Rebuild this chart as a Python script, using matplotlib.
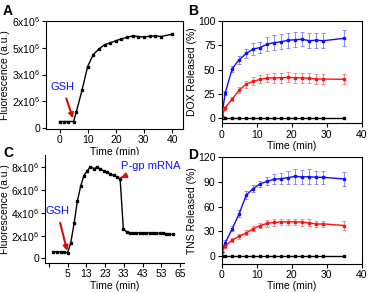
import matplotlib.pyplot as plt

plt.rcParams['font.family'] = ['Liberation Sans', 'DejaVu Sans']
plt.rcParams['font.size'] = 7.5
plt.rcParams['mathtext.fontset'] = 'custom'
plt.rcParams['mathtext.rm'] = 'Liberation Sans'

W, H = 369, 293

# Panel A: fluorescence vs time
a_time = [0, 1.5, 3, 5, 6, 8, 10, 12, 14, 16, 18, 20, 22, 24, 26, 28, 30, 32, 34, 36, 40]
a_fluo = [0.37, 0.37, 0.37, 0.37, 0.92, 2.12, 3.45, 4.12, 4.43, 4.67, 4.78, 4.89, 5.0,
          5.08, 5.17, 5.13, 5.1, 5.15, 5.17, 5.13, 5.26]
a_yticks = [0, 1.5, 3, 4.5, 6]
a_ylabels = ['0', '2x10$^6$', '3x10$^6$', '5x10$^6$', '6x10$^6$']

# Panel B: DOX released
b_time = [0, 1, 3, 5, 7, 9, 11, 13, 15, 17, 19, 21, 23, 25, 27, 29, 35]
b_blue = [2, 26, 51, 60, 66.5, 71, 72.5, 76, 77.5, 78.5, 80, 80.5, 81, 79.5, 80, 79.5, 82]
b_blue_err = [0, 2, 3, 4, 5, 6, 6, 7, 7.5, 7.5, 7.5, 7.5, 7, 7.5, 7.5, 7.5, 8]
b_red = [1, 11, 20, 29, 35, 38, 40, 41.3, 41.6, 41.6, 42, 41.6, 41.6, 41, 40.3, 40.3, 40]
b_red_err = [0, 2, 2, 3, 3.5, 4, 4, 4.5, 5, 5, 5, 5, 5, 5, 5, 5, 5]
b_black = [0] * 17

# Panel C: fluorescence, GSH then P-gp mRNA
c_time = [-2.5, -0.8, 1.3, 3.2, 5.0, 6.7, 8.5, 10.2, 12.0, 13.7, 15.5, 17.2, 19.0, 20.7,
          22.5, 24.2, 26.0, 27.7, 29.5, 31.2, 33.0, 34.7, 36.5, 38.2, 40.0, 41.7, 43.5,
          45.2, 47.0, 48.7, 50.5, 52.2, 54.0, 55.7, 57.5, 59.2, 61.0]
c_fluo = [0.58, 0.58, 0.58, 0.58, 0.49, 1.36, 3.07, 5.01, 6.38, 7.28, 7.71, 8.06, 7.91, 8.0,
          7.86, 7.71, 7.57, 7.45, 7.30, 7.19, 6.99, 2.61, 2.32, 2.26, 2.25, 2.25, 2.24,
          2.24, 2.23, 2.23, 2.22, 2.22, 2.21, 2.2, 2.18, 2.15, 2.1]
c_xticks = [-5, 5, 15, 25, 35, 45, 55, 65]
c_xlabels = ['', '5', '13', '23', '33', '43', '53', '65']
c_yticks = [0, 2, 4, 6, 8]
c_ylabels = ['0', '2x10$^6$', '4x10$^6$', '6x10$^6$', '8x10$^6$']

# Panel D: TNS released
d_time = b_time
d_blue = [5, 16, 33, 51.5, 73.7, 81.8, 87.4, 90.6, 93, 93.8, 95, 96.6, 95.8, 96.2, 95.4, 95.4, 93.4]
d_blue_err = [0, 3, 3, 4, 5, 4, 4, 5, 6, 7, 8, 9, 9, 9, 8, 8, 9]
d_red = [5, 12, 19.3, 24, 28, 33, 37, 39.5, 40.7, 41.5, 41.5, 41.5, 41, 40.3, 38.7, 39, 37]
d_red_err = [0, 2, 2, 3, 3, 3, 3, 4, 4, 4, 4, 4, 4, 4, 4, 4, 5]
d_black = [0] * 17

BLUE = '#1010ff'
RED = '#ff1010'

fig = plt.figure(figsize=(W / 100, H / 100), dpi=100)


def make_axes(left, top, right, bottom):
    return fig.add_axes([left / W, 1 - bottom / H, (right - left) / W, (bottom - top) / H])


def style(ax):
    ax.tick_params(direction='out', length=3, width=0.8, pad=1.5, labelsize=7.5)
    for s in ax.spines.values():
        s.set_linewidth(0.8)


# A
ax = make_axes(46, 21, 183, 129)
ax.plot(a_time, a_fluo, '-s', color='black', lw=1, ms=2)
ax.set_xlim(-4.8, 43.9)
ax.set_ylim(-0.05, 6.0)
ax.set_xticks([0, 10, 20, 30, 40])
ax.set_yticks(a_yticks)
ax.set_yticklabels(a_ylabels, fontsize=6.4)
ax.set_xlabel('Time (min)', labelpad=1)
ax.set_ylabel('Fluorescence (a.u.)')
ax.yaxis.set_label_coords(-0.265, 0.5)
ax.annotate('GSH', xy=(4.8, 0.55), xytext=(1.0, 2.15), color=BLUE, fontsize=8, ha='center',
            arrowprops=dict(arrowstyle='-|>', color='#d01010', lw=1.5, mutation_scale=7,
                            shrinkA=3, shrinkB=0))
style(ax)
ax.tick_params(axis='y', pad=1)

# B
ax = make_axes(221.7, 20.7, 361.7, 123.3)
ax.errorbar(b_time, b_blue, yerr=b_blue_err, fmt='-s', color=BLUE, ecolor='#7a7aff',
            lw=1, ms=2, elinewidth=0.6, capsize=1.5, capthick=0.6)
ax.errorbar(b_time, b_red, yerr=b_red_err, fmt='-s', color=RED, ecolor='#ff7a7a',
            lw=1, ms=2, elinewidth=0.6, capsize=1.5, capthick=0.6)
ax.plot(b_time, b_black, '-s', color='black', lw=1, ms=2)
ax.set_xlim(0, 40)
ax.set_ylim(-5, 100)
ax.set_xticks([0, 10, 20, 30, 40])
ax.set_yticks([0, 25, 50, 75, 100])
ax.set_xlabel('Time (min)', labelpad=1)
ax.set_ylabel('DOX Released (%)', labelpad=1)
style(ax)

# C
ax = make_axes(45, 155, 184, 263)
ax.plot(c_time, c_fluo, '-s', color='black', lw=1, ms=2)
ax.set_xlim(-7, 67)
ax.set_ylim(-0.41, 9.1)
ax.set_xticks(c_xticks)
ax.set_xticklabels(c_xlabels)
ax.set_yticks(c_yticks)
ax.set_yticklabels(c_ylabels, fontsize=6.4)
ax.spines['top'].set_visible(False)
ax.spines['right'].set_visible(False)
ax.set_xlabel('Time (min)', labelpad=1)
ax.set_ylabel('Fluorescence (a.u.)')
ax.yaxis.set_label_coords(-0.255, 0.5)
ax.annotate('GSH', xy=(4.8, 0.65), xytext=(-0.5, 3.9), color=BLUE, fontsize=8, ha='center',
            arrowprops=dict(arrowstyle='-|>', color='#d01010', lw=1.5, mutation_scale=7,
                            shrinkA=3, shrinkB=0))
ax.annotate('P-gp mRNA', xy=(33.4, 7.1), xytext=(49, 7.9), color=BLUE, fontsize=8, ha='center',
            arrowprops=dict(arrowstyle='-|>', color='#d01010', lw=1.5, mutation_scale=7,
                            shrinkA=8, shrinkB=0))
style(ax)
ax.tick_params(axis='y', pad=1)

# D
ax = make_axes(221.7, 157, 361.7, 263.5)
ax.errorbar(d_time, d_blue, yerr=d_blue_err, fmt='-s', color=BLUE, ecolor='#7a7aff',
            lw=1, ms=2, elinewidth=0.6, capsize=1.5, capthick=0.6)
ax.errorbar(d_time, d_red, yerr=d_red_err, fmt='-s', color=RED, ecolor='#ff7a7a',
            lw=1, ms=2, elinewidth=0.6, capsize=1.5, capthick=0.6)
ax.plot(d_time, d_black, '-s', color='black', lw=1, ms=2)
ax.set_xlim(0, 40)
ax.set_ylim(-9, 120)
ax.set_xticks([0, 10, 20, 30, 40])
ax.set_yticks([0, 30, 60, 90, 120])
ax.set_xlabel('Time (min)', labelpad=1)
ax.set_ylabel('TNS Released (%)', labelpad=1)
style(ax)

for letter, x, y in [('A', 3, 4), ('B', 188, 4), ('C', 3, 146), ('D', 188, 148)]:
    fig.text(x / W, 1 - y / H, letter, fontsize=10, fontweight='bold', va='top', ha='left')

fig.savefig('out.png', dpi=100)
